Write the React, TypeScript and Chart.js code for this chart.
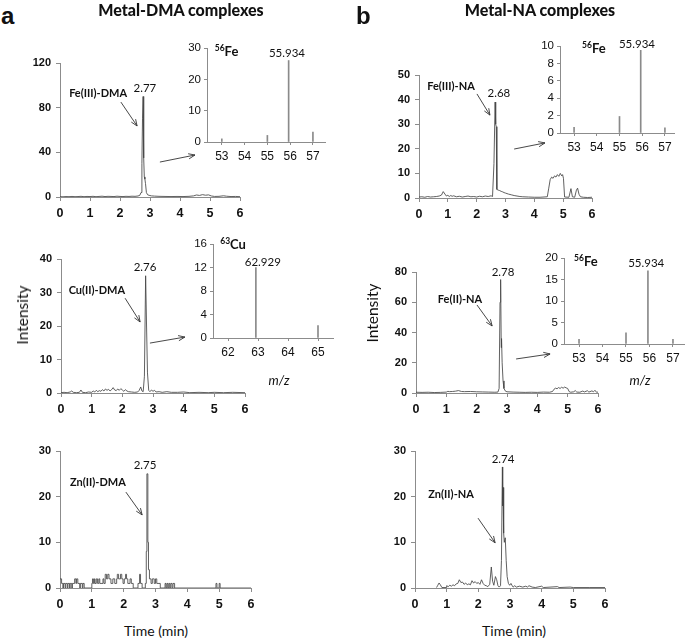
import React, { useEffect, useRef } from 'react';
import { Chart, registerables } from 'chart.js';
Chart.register(...registerables);

// ---------- DATA ----------
const timeTicks = [0, 1, 2, 3, 4, 5, 6];

// chromatogram traces: [time (min), intensity]
const feIIIDmaTrace: [number, number][] = [
  [0, 0.3], [0.1, 0.2], [0.2, 0.4], [0.3, 0.3], [0.4, 0.5], [0.5, 0.3], [0.6, 0.4], [0.7, 0.6], [0.8, 0.3], [0.9, 0.5],
  [1.0, 0.4], [1.1, 0.6], [1.2, 0.3], [1.3, 0.5], [1.4, 0.7], [1.5, 0.4], [1.6, 0.6], [1.7, 0.5], [1.8, 0.4], [1.9, 0.7],
  [2.0, 0.5], [2.1, 0.4], [2.2, 0.6], [2.3, 0.5], [2.4, 0.7], [2.5, 0.6], [2.6, 0.9], [2.66, 1.5], [2.7, 4], [2.73, 30],
  [2.75, 70], [2.77, 90], [2.79, 35], [2.81, 18], [2.83, 16], [2.85, 12], [2.88, 4], [2.92, 2], [2.97, 1.5], [3.05, 1],
  [3.15, 0.8], [3.3, 0.6], [3.5, 0.5], [3.7, 0.4], [3.9, 0.5], [4.1, 0.4], [4.3, 0.6], [4.45, 1.0], [4.55, 1.8], [4.65, 1.4],
  [4.75, 2.1], [4.85, 1.6], [4.95, 1.9], [5.05, 0.9], [5.15, 0.5], [5.3, 0.6], [5.45, 1.1], [5.55, 0.7], [5.7, 0.4], [5.85, 0.5], [6.0, 0.3],
];
const feIIINaTrace: [number, number][] = [
  [0, 0.4], [0.1, 0.5], [0.2, 0.3], [0.3, 0.6], [0.4, 0.4], [0.5, 0.5], [0.6, 0.6], [0.7, 0.8], [0.78, 1.2], [0.84, 2.6],
  [0.9, 1.6], [0.95, 0.8], [1.0, 1.1], [1.05, 0.6], [1.1, 1.0], [1.15, 0.7], [1.2, 0.9], [1.3, 0.5], [1.4, 0.7], [1.5, 0.4],
  [1.6, 0.6], [1.7, 0.8], [1.8, 0.5], [1.9, 0.6], [2.0, 0.4], [2.1, 0.7], [2.2, 0.5], [2.3, 0.8], [2.4, 0.6], [2.5, 0.9],
  [2.55, 0.6], [2.6, 14], [2.64, 39], [2.66, 30], [2.68, 29], [2.7, 3.5], [2.75, 3.2], [2.8, 3.0], [2.85, 2.7], [2.9, 2.5],
  [2.95, 2.2], [3.0, 2.0], [3.1, 1.6], [3.2, 1.3], [3.3, 1.0], [3.4, 0.8], [3.5, 0.6], [3.6, 0.5], [3.8, 0.4], [4.0, 0.3],
  [4.2, 0.3], [4.45, 0.5], [4.5, 4], [4.55, 7.5], [4.6, 8.5], [4.65, 8], [4.7, 9], [4.75, 8.5], [4.8, 9.5], [4.85, 8.8],
  [4.9, 10], [4.95, 9], [4.98, 9.5], [5.01, 8], [5.05, 0.4], [5.2, 0.3], [5.27, 3.8], [5.32, 0.5], [5.4, 0.3], [5.46, 3.2],
  [5.5, 4], [5.55, 1.5], [5.6, 0.5], [5.7, 0.3], [5.85, 0.2], [6.0, 0.3],
];
const cuIIDmaTrace: [number, number][] = [
  [0, 0.1], [0.1, 0.2], [0.2, 0.1], [0.3, 0.3], [0.35, 0.6], [0.4, 0.2], [0.5, 0.1], [0.6, 0.2], [0.65, 0.9], [0.7, 0.2],
  [0.8, 0.1], [0.9, 0.3], [1.0, 0.2], [1.05, 0.6], [1.1, 0.3], [1.15, 0.8], [1.2, 0.4], [1.25, 0.7], [1.3, 0.5], [1.35, 1.0],
  [1.4, 0.6], [1.45, 1.2], [1.5, 0.8], [1.55, 1.1], [1.6, 0.6], [1.65, 1.0], [1.7, 1.6], [1.75, 0.9], [1.8, 0.7], [1.85, 1.2],
  [1.9, 0.8], [1.95, 1.3], [2.0, 0.9], [2.05, 0.5], [2.1, 1.0], [2.15, 0.6], [2.2, 0.4], [2.3, 0.3], [2.4, 0.2], [2.5, 0.3],
  [2.55, 0.8], [2.6, 1.8], [2.64, 0.6], [2.68, 0.4], [2.72, 5], [2.76, 35], [2.79, 20], [2.82, 6], [2.86, 0.8], [2.9, 0.4],
  [2.95, 0.9], [3.0, 0.5], [3.05, 0.8], [3.1, 0.3], [3.2, 0.4], [3.3, 0.2], [3.45, 0.4], [3.6, 0.2], [3.8, 0.2], [4.0, 0.3],
  [4.2, 0.1], [4.5, 0.2], [4.8, 0.1], [5.0, 0.2], [5.3, 0.1], [5.6, 0.2], [6.0, 0.1],
];
const feIINaTrace: [number, number][] = [
  [0, 0.5], [0.2, 0.4], [0.4, 0.5], [0.6, 0.3], [0.8, 0.4], [1.0, 0.6], [1.05, 1.1], [1.1, 0.9], [1.2, 1.0], [1.3, 1.2],
  [1.4, 1.6], [1.5, 1.0], [1.6, 0.9], [1.8, 1.0], [2.0, 0.8], [2.2, 0.7], [2.4, 0.6], [2.6, 0.5], [2.7, 0.6], [2.74, 3],
  [2.77, 60], [2.79, 75], [2.81, 30], [2.82, 36], [2.84, 20], [2.87, 8], [2.9, 3], [2.95, 1.2], [3.0, 0.8], [3.2, 0.6],
  [3.4, 0.5], [3.6, 0.4], [3.8, 0.5], [4.0, 0.4], [4.2, 0.6], [4.4, 0.5], [4.5, 1.0], [4.55, 2.5], [4.6, 3.2], [4.65, 2.8],
  [4.7, 3.6], [4.75, 3.0], [4.8, 3.8], [4.85, 3.2], [4.9, 3.9], [4.95, 3.4], [5.0, 3.0], [5.05, 0.9], [5.1, 0.5], [5.2, 0.8],
  [5.25, 1.6], [5.3, 0.6], [5.4, 0.5], [5.5, 1.3], [5.55, 0.7], [5.65, 1.5], [5.7, 0.6], [5.8, 1.4], [5.85, 0.8], [5.9, 1.8],
  [5.95, 0.5], [6.0, 0.6],
];
// Zn(II)-DMA is a digital (stepped) signal: value changes at each time
const znIIDmaTrace: [number, number][] = [
  [0, 2], [0.05, 1], [0.09, 0], [0.11, 1], [0.16, 0], [0.18, 1], [0.23, 0], [0.25, 1], [0.3, 0], [0.32, 1],
  [0.37, 0], [0.39, 1], [0.46, 2], [0.5, 1], [0.52, 2], [0.56, 1], [0.62, 0], [0.64, 1], [0.7, 0], [0.72, 1],
  [0.76, 0], [1.0, 1], [1.02, 2], [1.05, 1], [1.08, 2], [1.1, 1], [1.14, 2], [1.18, 1], [1.22, 2], [1.25, 1],
  [1.35, 2], [1.38, 1], [1.42, 3], [1.46, 2], [1.5, 3], [1.54, 2], [1.6, 1], [1.66, 2], [1.72, 1], [1.78, 2],
  [1.8, 3], [1.84, 2], [1.9, 3], [1.94, 2], [1.98, 1], [2.02, 2], [2.06, 3], [2.09, 2], [2.13, 1], [2.2, 2],
  [2.24, 1], [2.3, 0], [2.45, 1], [2.5, 3], [2.53, 1], [2.58, 0], [2.68, 1], [2.71, 8], [2.73, 25], [2.76, 10],
  [2.78, 4], [2.81, 2], [2.86, 1], [2.9, 2], [2.96, 1], [3.0, 2], [3.04, 1], [3.15, 0], [3.3, 1], [3.33, 0],
  [3.36, 1], [3.39, 0], [3.42, 1], [3.45, 0], [3.48, 1], [3.52, 0], [3.55, 1], [3.6, 0], [4.9, 1], [4.93, 0],
  [5.0, 1], [5.03, 0], [6.0, 0],
];
const znIINaTrace: [number, number][] = [
  [0.68, 0.1], [0.72, 0.6], [0.76, 1.1], [0.8, 0.7], [0.85, 0.1], [0.98, 0.1], [1.0, 0.5], [1.05, 0.3], [1.1, 0.6], [1.15, 0.4],
  [1.2, 0.7], [1.25, 0.5], [1.3, 0.9], [1.35, 1.0], [1.4, 1.8], [1.45, 1.2], [1.5, 1.3], [1.55, 0.8], [1.6, 1.1], [1.65, 0.7],
  [1.7, 0.9], [1.75, 0.7], [1.8, 1.6], [1.85, 1.1], [1.9, 1.4], [1.95, 1.0], [2.0, 1.2], [2.05, 0.8], [2.1, 1.8], [2.15, 1.0],
  [2.2, 0.6], [2.25, 0.5], [2.3, 0.3], [2.36, 0.8], [2.41, 4.6], [2.45, 1.5], [2.49, 0.6], [2.54, 2.5], [2.58, 1.8], [2.62, 0.5],
  [2.66, 0.2], [2.7, 0.5], [2.73, 6], [2.76, 26.5], [2.77, 18], [2.78, 22], [2.8, 12], [2.82, 10], [2.85, 11], [2.88, 6],
  [2.91, 2.5], [2.95, 1.0], [2.99, 0.6], [3.03, 1.0], [3.07, 0.5], [3.1, 0.2], [3.15, 0.5], [3.2, 0.2], [3.3, 0.4], [3.4, 0.2],
  [3.5, 0.4], [3.55, 0.2], [3.6, 0.5], [3.7, 0.2], [3.8, 0.1], [4.0, 0.4], [4.05, 0.1], [4.5, 0.3], [4.55, 0.1], [4.9, 0.2],
  [5.0, 0.1], [5.5, 0.1], [6.0, 0.1],
];

// mass spectra (m/z, intensity)
const feMassTicks = [53, 54, 55, 56, 57];
const cuMassTicks = [62, 63, 64, 65];
const feDmaMz = [53, 55, 55.934, 57];
const feDmaInt = [1.0, 2.1, 26, 3.2];
const feIIINaMz = [53, 55, 55.934, 57];
const feIIINaInt = [0.65, 1.9, 9.5, 0.6];
const cuDmaMz = [62.929, 65];
const cuDmaInt = [12, 2.1];
const feIINaMz = [53, 55, 55.934, 57];
const feIINaInt = [1.1, 2.6, 17, 1.1];

// y-axis tick labels
const yTicksFeDma = [0, 40, 80, 120];
const yTicksFeIIINa = [0, 10, 20, 30, 40, 50];
const yTicksCuDma = [0, 10, 20, 30, 40];
const yTicksFeIINa = [0, 20, 40, 60, 80];
const yTicksZn = [0, 10, 20, 30];
const yTicksSpecFeDma = [0, 10, 20, 30];
const yTicksSpecFeIIINa = [0, 2, 4, 6, 8, 10];
const yTicksSpecCu = [0, 4, 8, 12, 16];
const yTicksSpecFeIINa = [0, 5, 10, 15, 20];

// ---------- STYLE ----------
const PADL = 45, YW = 40, PADT = 25, PADR = 15, PADB = 25, XH = 22;
const AXIS = '#8c8c8c';
const TRACE = '#454545';
const BAR = '#8a8a8a';
const LBL_B = 'bold 11px Lato';
const LBL = '11.5px Lato';
const SUP = 'bold 8.5px Lato';
const ISO = 'bold 13px Lato';

type Part = { text: string; font: string; dy?: number };
type Label = { parts: Part[]; x: number; y: number; align?: 'center' | 'left' };
type Arrow = { from: [number, number]; to: [number, number] };
type Spec = {
  id: string;
  kind: 'trace' | 'spectrum';
  area: { l: number; t: number; r: number; b: number };
  xMin: number; xMax: number; xTicks: number[];
  yMin: number; yMax: number; yTicks: number[];
  points: { x: number; y: number }[];
  stepped?: boolean;
  labels: Label[];
  arrows: Arrow[];
};

const pairs = (arr: [number, number][]) => arr.map(([x, y]) => ({ x, y }));
const zip = (xs: number[], ys: number[]) => xs.map((x, i) => ({ x, y: ys[i] }));
const txt = (text: string, font: string): Part[] => [{ text, font }];
const iso = (mass: string, el: string): Part[] => [{ text: mass, font: SUP, dy: -4 }, { text: el, font: ISO }];

const specs: Spec[] = [
  {
    id: 'a1', kind: 'trace', area: { l: 60, t: 63, r: 240, b: 197 },
    xMin: 0, xMax: 6, xTicks: timeTicks, yMin: 0, yMax: 120, yTicks: yTicksFeDma,
    points: pairs(feIIIDmaTrace),
    labels: [
      { parts: txt('Fe(III)-DMA', LBL_B), x: 1.27, y: 93 },
      { parts: txt('2.77', LBL), x: 2.83, y: 97.6 },
    ],
    arrows: [{ from: [2.03, 85], to: [2.57, 63.6] }, { from: [3.33, 31.3], to: [4.5, 37.6] }],
  },
  {
    id: 'b1', kind: 'trace', area: { l: 419, t: 75, r: 592, b: 198 },
    xMin: 0, xMax: 6, xTicks: timeTicks, yMin: 0, yMax: 50, yTicks: yTicksFeIIINa,
    points: pairs(feIIINaTrace),
    labels: [
      { parts: txt('Fe(III)-NA', LBL_B), x: 1.11, y: 45.5 },
      { parts: txt('2.68', LBL), x: 2.77, y: 42.7 },
    ],
    arrows: [{ from: [2.01, 42.3], to: [2.46, 33.7] }, { from: [3.3, 19.9], to: [4.37, 22.4] }],
  },
  {
    id: 'a2', kind: 'trace', area: { l: 61, t: 259, r: 245, b: 393 },
    xMin: 0, xMax: 6, xTicks: timeTicks, yMin: 0, yMax: 40, yTicks: yTicksCuDma,
    points: pairs(cuIIDmaTrace),
    labels: [
      { parts: txt('Cu(II)-DMA', LBL_B), x: 1.17, y: 30.7 },
      { parts: txt('2.76', LBL), x: 2.74, y: 37.6 },
    ],
    arrows: [{ from: [2.09, 28.3], to: [2.58, 21.2] }, { from: [2.9, 14.9], to: [4.04, 16.7] }],
  },
  {
    id: 'b2', kind: 'trace', area: { l: 416, t: 272, r: 598, b: 393 },
    xMin: 0, xMax: 6, xTicks: timeTicks, yMin: 0, yMax: 80, yTicks: yTicksFeIINa,
    points: pairs(feIINaTrace),
    labels: [
      { parts: txt('Fe(II)-NA', LBL_B), x: 1.45, y: 62.1 },
      { parts: txt('2.78', LBL), x: 2.87, y: 80 },
    ],
    arrows: [{ from: [2.01, 58.2], to: [2.51, 44.3] }, { from: [3.3, 22.5], to: [4.42, 25.8] }],
  },
  {
    id: 'a3', kind: 'trace', area: { l: 60, t: 451, r: 251, b: 588 },
    xMin: 0, xMax: 6, xTicks: timeTicks, yMin: 0, yMax: 30, yTicks: yTicksZn,
    points: pairs(znIIDmaTrace), stepped: true,
    labels: [
      { parts: txt('Zn(II)-DMA', LBL_B), x: 1.19, y: 23.2 },
      { parts: txt('2.75', LBL), x: 2.67, y: 26.9 },
    ],
    arrows: [{ from: [2.07, 21], to: [2.58, 16] }],
  },
  {
    id: 'b3', kind: 'trace', area: { l: 415, t: 451, r: 605, b: 588 },
    xMin: 0, xMax: 6, xTicks: timeTicks, yMin: 0, yMax: 30, yTicks: yTicksZn,
    points: pairs(znIINaTrace),
    labels: [
      { parts: txt('Zn(II)-NA', LBL_B), x: 1.14, y: 20.4 },
      { parts: txt('2.74', LBL), x: 2.78, y: 28.2 },
    ],
    arrows: [{ from: [1.99, 15.3], to: [2.53, 9.9] }],
  },
  {
    id: 'ia1', kind: 'spectrum', area: { l: 207, t: 48, r: 325, b: 142 },
    xMin: 52.35, xMax: 57.53, xTicks: feMassTicks, yMin: 0, yMax: 30, yTicks: yTicksSpecFeDma,
    points: zip(feDmaMz, feDmaInt),
    labels: [
      { parts: iso('56', 'Fe'), x: 52.69, y: 28.7, align: 'left' },
      { parts: txt('55.934', LBL), x: 55.86, y: 28.4 },
    ],
    arrows: [],
  },
  {
    id: 'ib1', kind: 'spectrum', area: { l: 560, t: 46, r: 674, b: 133 },
    xMin: 52.38, xMax: 57.4, xTicks: feMassTicks, yMin: 0, yMax: 10, yTicks: yTicksSpecFeIIINa,
    points: zip(feIIINaMz, feIIINaInt),
    labels: [
      { parts: iso('56', 'Fe'), x: 53.35, y: 9.65, align: 'left' },
      { parts: txt('55.934', LBL), x: 55.77, y: 10.2 },
    ],
    arrows: [],
  },
  {
    id: 'ia2', kind: 'spectrum', area: { l: 213, t: 244, r: 333, b: 338 },
    xMin: 61.5, xMax: 65.5, xTicks: cuMassTicks, yMin: 0, yMax: 16, yTicks: yTicksSpecCu,
    points: zip(cuDmaMz, cuDmaInt),
    labels: [
      { parts: iso('63', 'Cu'), x: 61.74, y: 15.8, align: 'left' },
      { parts: txt('62.929', LBL), x: 63.16, y: 12.9 },
    ],
    arrows: [],
  },
  {
    id: 'ib2', kind: 'spectrum', area: { l: 564, t: 258, r: 684, b: 344 },
    xMin: 52.36, xMax: 57.47, xTicks: feMassTicks, yMin: 0, yMax: 20, yTicks: yTicksSpecFeIINa,
    points: zip(feIINaMz, feIINaInt),
    labels: [
      { parts: iso('56', 'Fe'), x: 52.79, y: 19.1, align: 'left' },
      { parts: txt('55.934', LBL), x: 55.86, y: 18.8 },
    ],
    arrows: [],
  },
];

function drawAnnotations(chart: any, s: Spec) {
  const { ctx } = chart;
  const xs = chart.scales.x;
  const ys = chart.scales.y;
  ctx.save();
  ctx.fillStyle = '#111';
  ctx.textBaseline = 'middle';
  ctx.textAlign = 'left';
  for (const lab of s.labels) {
    const px = xs.getPixelForValue(lab.x);
    const py = ys.getPixelForValue(lab.y);
    const widths = lab.parts.map((p) => { ctx.font = p.font; return ctx.measureText(p.text).width; });
    const total = widths.reduce((a, b) => a + b, 0);
    let cx = lab.align === 'left' ? px : px - total / 2;
    lab.parts.forEach((p, i) => {
      ctx.font = p.font;
      ctx.fillText(p.text, cx, py + (p.dy || 0));
      cx += widths[i];
    });
  }
  ctx.strokeStyle = '#333';
  ctx.lineWidth = 0.9;
  for (const a of s.arrows) {
    const x1 = xs.getPixelForValue(a.from[0]);
    const y1 = ys.getPixelForValue(a.from[1]);
    const x2 = xs.getPixelForValue(a.to[0]);
    const y2 = ys.getPixelForValue(a.to[1]);
    const ang = Math.atan2(y2 - y1, x2 - x1);
    const L = 7, sp = 0.38;
    ctx.beginPath();
    ctx.moveTo(x1, y1);
    ctx.lineTo(x2, y2);
    ctx.moveTo(x2 - L * Math.cos(ang - sp), y2 - L * Math.sin(ang - sp));
    ctx.lineTo(x2, y2);
    ctx.lineTo(x2 - L * Math.cos(ang + sp), y2 - L * Math.sin(ang + sp));
    ctx.stroke();
  }
  ctx.restore();
}

function axis(min: number, max: number, ticks: number[], isX: boolean, spectrum: boolean) {
  const font = spectrum
    ? { family: 'Liberation Sans', size: isX ? 12 : 11.5, weight: 'normal' as const }
    : { family: 'Liberation Sans', size: isX ? 12.5 : 11, weight: 'bold' as const };
  return {
    type: 'linear',
    min, max, offset: false,
    afterBuildTicks: (sc: any) => { sc.ticks = ticks.map((v) => ({ value: v })); },
    afterFit: (sc: any) => {
      if (isX) sc.height = XH; else sc.width = YW;
      sc.paddingLeft = 0; sc.paddingRight = 0; sc.paddingTop = 0; sc.paddingBottom = 0;
    },
    grid: { display: true, drawOnChartArea: false, drawTicks: true, tickLength: spectrum ? 3 : 4, color: AXIS, lineWidth: 1, offset: false },
    border: { display: true, color: AXIS, width: 1 },
    ticks: {
      color: '#111', font, padding: isX ? (spectrum ? 4 : 5) : (spectrum ? 3 : 5),
      autoSkip: false, maxRotation: 0, minRotation: 0,
      callback: (v: number) => String(v),
    },
  };
}

function buildConfig(s: Spec): any {
  const spectrum = s.kind === 'spectrum';
  const dataset: any = spectrum
    ? { data: s.points, backgroundColor: BAR, borderWidth: 0, barThickness: 1 }
    : { data: s.points, borderColor: TRACE, borderWidth: 0.85, pointRadius: 0, tension: 0, fill: false, stepped: s.stepped ? true : false };
  return {
    type: spectrum ? 'bar' : 'line',
    data: { datasets: [dataset] },
    options: {
      responsive: false,
      maintainAspectRatio: false,
      animation: false,
      events: [],
      layout: { padding: { left: PADL - YW, top: PADT, right: PADR, bottom: PADB - XH } },
      plugins: { legend: { display: false }, tooltip: { enabled: false } },
      scales: {
        x: axis(s.xMin, s.xMax, s.xTicks, true, spectrum),
        y: axis(s.yMin, s.yMax, s.yTicks, false, spectrum),
      },
    },
    plugins: [{ id: 'annot-' + s.id, afterDatasetsDraw: (chart: any) => drawAnnotations(chart, s) }],
  };
}

function ChartPanel({ spec }: { spec: Spec }) {
  const ref = useRef<HTMLCanvasElement>(null);
  useEffect(() => {
    const chart = new Chart(ref.current as HTMLCanvasElement, buildConfig(spec));
    return () => chart.destroy();
  }, [spec]);
  const { l, t, r, b } = spec.area;
  return (
    <canvas
      ref={ref}
      width={r - l + PADL + PADR}
      height={b - t + PADT + PADB}
      style={{ position: 'absolute', left: l - PADL, top: t - PADT }}
    />
  );
}

type TextItem = { text: string; x: number; y: number; style: React.CSSProperties; rotate?: boolean; anchor?: 'center' | 'left' };
const texts: TextItem[] = [
  { text: 'a', x: 1, y: 2.4, anchor: 'left', style: { font: 'bold 24px "Liberation Sans"' } },
  { text: 'b', x: 356, y: 2.4, anchor: 'left', style: { font: 'bold 24px "Liberation Sans"' } },
  { text: 'Metal-DMA complexes', x: 181, y: 9, style: { font: '900 16px Lato' } },
  { text: 'Metal-NA complexes', x: 540, y: 9, style: { font: '900 16px Lato' } },
  { text: 'Intensity', x: 22, y: 315, rotate: true, style: { font: '15.5px Lato' } },
  { text: 'Intensity', x: 372, y: 313, rotate: true, style: { font: '15.5px Lato' } },
  { text: 'Time (min)', x: 156, y: 630, style: { font: '14px Lato' } },
  { text: 'Time (min)', x: 514, y: 630, style: { font: '14px Lato' } },
  { text: 'm/z', x: 279, y: 380, style: { font: 'italic 13px Lato' } },
  { text: 'm/z', x: 640, y: 380, style: { font: 'italic 13px Lato' } },
];

export default function App() {
  return (
    <div style={{ position: 'fixed', left: 0, top: 0, width: 685, height: 638, overflow: 'hidden', background: '#fff' }}>
      {specs.map((s) => <ChartPanel key={s.id} spec={s} />)}
      {texts.map((t, i) => (
        <div
          key={i}
          style={{
            position: 'absolute', left: t.x, top: t.y, lineHeight: 1, whiteSpace: 'nowrap', color: '#111',
            transform: t.anchor === 'left' ? undefined : `translate(-50%, -50%)${t.rotate ? ' rotate(-90deg)' : ''}`,
            ...t.style,
          }}
        >
          {t.text}
        </div>
      ))}
    </div>
  );
}
